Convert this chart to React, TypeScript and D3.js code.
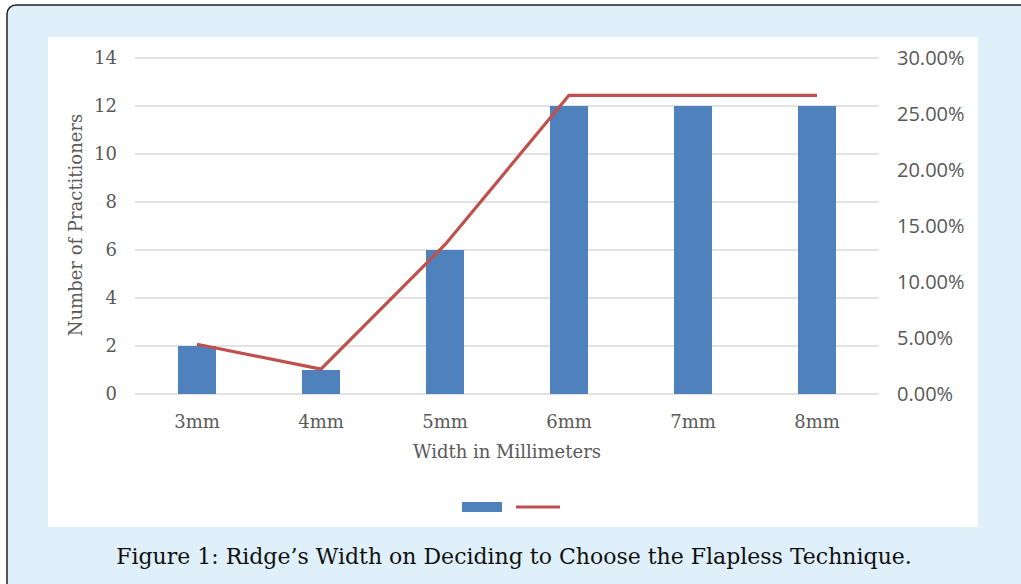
import React from "react";
import * as d3 from "d3";

const categories = ["3mm", "4mm", "5mm", "6mm", "7mm", "8mm"];
const counts = [2, 1, 6, 12, 12, 12];
const percents = [4.44, 2.22, 13.33, 26.67, 26.67, 26.67];
const leftTicks = [0, 2, 4, 6, 8, 10, 12, 14];
const rightTicks = [0, 5, 10, 15, 20, 25, 30];

const W = 1021;
const H = 584;
const plot = { left: 135, right: 879, top: 58, bottom: 394 };
const serif = "'DejaVu Serif', 'Liberation Serif', serif";
const sans = "'Open Sans', Roboto, sans-serif";
const tickColor = "#595959";

export default function App() {
  const yL = d3.scaleLinear().domain([0, 14]).range([plot.bottom, plot.top]);
  const yR = d3.scaleLinear().domain([0, 30]).range([plot.bottom, plot.top]);
  const band = d3.scaleBand<string>().domain(categories).range([plot.left, plot.right]);
  const cx = (c: string) => (band(c) as number) + band.bandwidth() / 2;
  const line = d3
    .line<number>()
    .x((_, i) => cx(categories[i]))
    .y((d) => yR(d));
  const barW = 38;

  return (
    <svg width={W} height={H} style={{ position: "absolute", left: 0, top: 0 }}>
      <rect x={0} y={0} width={W} height={H} fill="#ffffff" />
      <rect x={7} y={5} width={1040} height={620} rx={9} fill="#dff0fb" stroke="#222" strokeWidth={1.5} />
      <rect x={48} y={37} width={930} height={490} fill="#ffffff" />
      {leftTicks.map((t) => (
        <line key={"g" + t} x1={plot.left} x2={plot.right} y1={yL(t)} y2={yL(t)} stroke="#d9d9d9" strokeWidth={1.3} />
      ))}
      {leftTicks.map((t) => (
        <text key={"l" + t} x={117} y={yL(t)} dy="0.36em" textAnchor="end" fontFamily={serif} fontSize={18} fill={tickColor}>
          {t}
        </text>
      ))}
      {rightTicks.map((t) => (
        <text key={"r" + t} x={897} y={yR(t)} dy="0.36em" textAnchor="start" fontFamily={sans} fontSize={20} fill={tickColor}>
          {t.toFixed(2)}%
        </text>
      ))}
      {categories.map((c, i) => (
        <rect key={"b" + c} x={cx(c) - barW / 2} y={yL(counts[i])} width={barW} height={yL(0) - yL(counts[i])} fill="#4f81bd" />
      ))}
      <path d={line(percents) || ""} fill="none" stroke="#c0504d" strokeWidth={3.2} strokeLinejoin="round" />
      {categories.map((c) => (
        <text key={"x" + c} x={cx(c)} y={428} textAnchor="middle" fontFamily={serif} fontSize={18} fill={tickColor}>
          {c}
        </text>
      ))}
      <text x={507} y={458} textAnchor="middle" fontFamily={serif} fontSize={18} fill={tickColor}>
        Width in Millimeters
      </text>
      <text transform="translate(82,225) rotate(-90)" textAnchor="middle" fontFamily={serif} fontSize={18} fill={tickColor}>
        Number of Practitioners
      </text>
      <rect x={462} y={502} width={40} height={10} fill="#4f81bd" />
      <line x1={516} x2={560} y1={507} y2={507} stroke="#c0504d" strokeWidth={3.2} />
      <text x={514} y={564} textAnchor="middle" fontFamily={serif} fontSize={22} fill="#111">
        Figure 1: Ridge’s Width on Deciding to Choose the Flapless Technique.
      </text>
    </svg>
  );
}
